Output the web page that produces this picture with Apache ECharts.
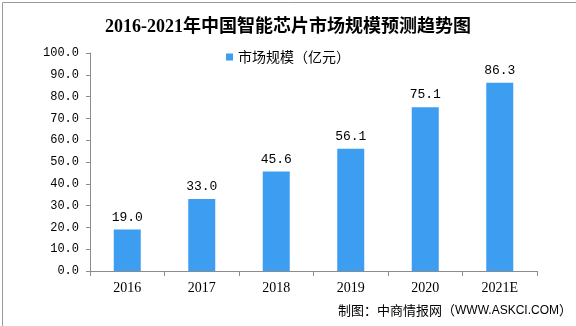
<!DOCTYPE html>
<html>
<head>
<meta charset="utf-8">
<script src="https://cdn.jsdelivr.net/npm/echarts@6/dist/echarts.min.js"></script>
<style>
  html, body { margin: 0; padding: 0; background: #fff; }
  #chart { width: 576px; height: 326px; }
</style>
</head>
<body>
<div id="chart"></div>
<script>
// 2016-2021 年中国智能芯片市场规模（亿元）
const years = ['2016', '2017', '2018', '2019', '2020', '2021E'];
const marketSize = [19.0, 33.0, 45.6, 56.1, 75.1, 86.3];
const seriesName = '市场规模（亿元）';
const titleText = '2016-2021年中国智能芯片市场规模预测趋势图';
const sourcePrefix = '制图：中商情报网（';
const sourceSite = 'WWW.ASKCI.COM';
const sourceSuffix = '）';

const chart = echarts.init(document.getElementById('chart'), null, { renderer: 'canvas' });

const barColor = '#3d9df0';
const axisGray = '#8c8c8c';

chart.setOption({
  animation: false,
  backgroundColor: '#fff',
  title: {
    text: titleText,
    left: 'center',
    top: 13,
    textStyle: {
      fontFamily: 'Liberation Serif, "Noto Sans CJK SC", serif',
      fontWeight: 'bold',
      fontSize: 18,
      color: '#000'
    }
  },
  legend: {
    data: [seriesName],
    left: 'center',
    top: 45,
    icon: 'rect',
    itemWidth: 7,
    itemHeight: 7,
    itemGap: 4,
    textStyle: {
      fontFamily: '"Noto Sans CJK SC", sans-serif',
      fontSize: 14,
      color: '#000'
    }
  },
  grid: { left: 90, right: 39, top: 53, bottom: 55 },
  xAxis: {
    type: 'category',
    data: years,
    boundaryGap: true,
    axisLine: { lineStyle: { color: axisGray, width: 1 } },
    axisTick: { show: true, inside: false, length: 5, alignWithLabel: false, lineStyle: { color: axisGray } },
    axisLabel: {
      margin: 10,
      color: '#000',
      fontFamily: 'Liberation Serif, serif',
      fontSize: 14
    }
  },
  yAxis: {
    type: 'value',
    min: 0,
    max: 100,
    interval: 10,
    splitLine: { show: false },
    axisLine: { show: true, lineStyle: { color: axisGray, width: 1 } },
    axisTick: { show: true, inside: false, length: 4, lineStyle: { color: axisGray } },
    axisLabel: {
      margin: 11,
      color: '#000',
      fontFamily: 'Liberation Mono, monospace',
      fontSize: 12,
      formatter: v => v.toFixed(1)
    }
  },
  series: [{
    name: seriesName,
    type: 'bar',
    data: marketSize,
    barWidth: 27,
    itemStyle: { color: barColor },
    label: {
      show: true,
      position: 'top',
      distance: 6,
      color: '#000',
      fontFamily: 'Liberation Mono, monospace',
      fontSize: 13,
      formatter: p => p.value.toFixed(1)
    }
  }],
  graphic: [
    {
      type: 'rect',
      left: 0, top: 0,
      shape: { x: 0.5, y: 0.5, width: 575, height: 325 },
      style: { fill: 'none', stroke: '#9a9a9a', lineWidth: 1 },
      silent: true
    },
    {
      type: 'text',
      right: 4,
      top: 304,
      style: {
        text: '{c|' + sourcePrefix + '}{s|' + sourceSite + '}{c|' + sourceSuffix + '}',
        rich: {
          c: { fill: '#000', fontFamily: '"Noto Sans CJK SC", sans-serif', fontSize: 13 },
          s: { fill: '#000', fontFamily: 'Liberation Sans, Arial, sans-serif', fontSize: 12 }
        }
      }
    }
  ]
});
</script>
</body>
</html>
